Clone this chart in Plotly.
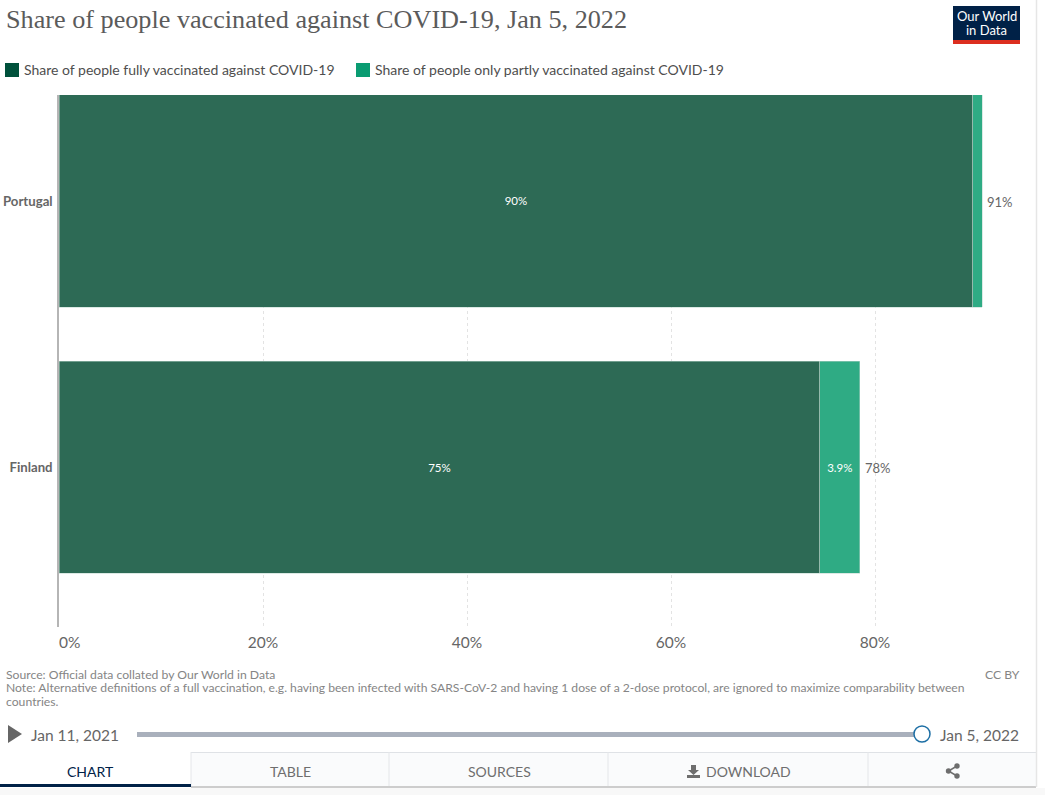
import plotly.graph_objects as go

countries = ["Finland", "Portugal"]
fully = [74.6, 89.6]
partly = [3.9, 0.9]
fully_labels = ["75%", "90%"]
partly_labels = ["3.9%", ""]
total_labels = ["78%", "91%"]
series_names = ["Share of people fully vaccinated against COVID-19",
                "Share of people only partly vaccinated against COVID-19"]
x_ticks = [0, 20, 40, 60, 80]
x_tick_labels = ["", "20%", "40%", "60%", "80%"]

W, H = 1045, 795
L, R, T, B = 59, 9, 95, 168
PW, PH = W - L - R, H - T - B
def px(x): return (x - L) / PW
def py(y): return 1 - (y - T) / PH

DARK, LIGHT = "#00513b", "#0a9c72"
DARK_BAR, LIGHT_BAR = "#2d6a55", "#2fab84"
GREY = "#6e6e6e"

fig = go.Figure()
fig.add_bar(y=countries, x=fully, orientation="h", name=series_names[0],
            marker=dict(color=DARK_BAR, line=dict(color="#b8d4ca", width=0.5)),
            text=fully_labels, textposition="inside", insidetextanchor="middle",
            textangle=0, textfont=dict(color="white", size=11.5, family="Lato"), hoverinfo="skip")
fig.add_bar(y=countries, x=partly, orientation="h", name=series_names[1],
            marker=dict(color=LIGHT_BAR, line=dict(color="#b8d4ca", width=0.5)),
            text=partly_labels, textposition="inside", insidetextanchor="middle",
            textangle=0, textfont=dict(color="white", size=11.5, family="Lato"), hoverinfo="skip")

ann, shp = [], []
def text(x, y, s, size=11, color=GREY, anchor="left", family="Lato"):
    ann.append(dict(xref="paper", yref="paper", x=px(x), y=py(y), text=s, showarrow=False,
                    xanchor=anchor, yanchor="middle", align=anchor,
                    font=dict(size=size, color=color, family=family), xshift=0, yshift=0,
                    borderpad=0, borderwidth=0))
def rect(x0, y0, x1, y1, fill, line=None, layer="above"):
    shp.append(dict(type="rect", xref="paper", yref="paper", x0=px(x0), x1=px(x1), y0=py(y0), y1=py(y1),
                    fillcolor=fill, line=dict(width=0 if line is None else 1, color=line or fill), layer=layer))
def hline(x0, x1, y, color, width=1):
    shp.append(dict(type="line", xref="paper", yref="paper", x0=px(x0), x1=px(x1), y0=py(y), y1=py(y),
                    line=dict(color=color, width=width)))
def vline(x, y0, y1, color, width=1):
    shp.append(dict(type="line", xref="paper", yref="paper", x0=px(x), x1=px(x), y0=py(y0), y1=py(y1),
                    line=dict(color=color, width=width)))
def path(points, fill):
    d = "M" + " L".join(f"{px(a):.5f},{py(b):.5f}" for a, b in points) + " Z"
    shp.append(dict(type="path", xref="paper", yref="paper", path=d, fillcolor=fill, line=dict(width=0)))

# value totals beside the bars
for c, f, p, lab in zip(countries, fully, partly, total_labels):
    ann.append(dict(x=f + p, y=c, xref="x", yref="y", text=lab, showarrow=False, xanchor="left",
                    xshift=3, yshift=-1, font=dict(size=13, color="#666", family="Lato")))

# title and logo
text(6, 19, "Share of people vaccinated against COVID-19, Jan 5, 2022", 26.2, "#5b5b5b", family="Liberation Serif")
rect(953, 6, 1020, 44, "#002147")
rect(953, 40, 1020, 44, "#dc2e1f")
text(986.5, 16, "Our World", 13, "white", "center")
text(986.5, 30, "in Data", 13, "white", "center")

# legend
rect(5, 63, 19, 77, DARK)
text(24, 70, series_names[0], 14, "#4e4e4e")
rect(356, 63, 370, 77, LIGHT)
text(375, 70, series_names[1], 14, "#4e4e4e")

# x=0 tick label
text(69.5, 642, "0%", 15.5, "#666", "center")

# footer
text(6, 674, "Source: Official data collated by Our World in Data", 12.2, "#858585")
text(1020, 674, "CC BY", 12.2, "#858585", "right")
text(6, 687.5, "Note: Alternative definitions of a full vaccination, e.g. having been infected with SARS-CoV-2 and having 1 dose of a 2-dose protocol, are ignored to maximize comparability between", 12.15, "#858585")
text(6, 701, "countries.", 12.2, "#858585")

# timeline
path([(8, 725), (22, 734), (8, 743)], "#666666")
text(31, 735, "Jan 11, 2021", 15.5, "#666")
text(1019, 735, "Jan 5, 2022", 15.5, "#666", "right")
rect(137, 732, 922, 737, "#a9b0bc")
shp.append(dict(type="circle", xref="paper", yref="paper", x0=px(914), x1=px(930), y0=py(726), y1=py(742),
                fillcolor="white", line=dict(color="#1d6fa5", width=1.5)))

# tabs
rect(191, 752, 1036, 786, "#fafbfc")
hline(191, 1036, 752.5, "#dfe2e6")
for x in [191, 389, 608, 868]:
    vline(x, 752, 786, "#e4e6e9")
rect(0, 784, 191, 787, "#002147")
hline(191, 1036, 787, "#bdbdbd", 1.5)
rect(0, 788, 1045, 795, "#f8f8f8")
vline(1036.5, 0, 787, "#e6e6e6", 1.5)
text(90.5, 771, "CHART", 14, "#002147", "center")
text(290.5, 771, "TABLE", 14, "#6e6e6e", "center")
text(499, 771, "SOURCES", 14, "#6e6e6e", "center")
text(706, 771, "DOWNLOAD", 14, "#6e6e6e", "left")
path([(691, 765), (696, 765), (696, 770), (699, 770), (693.5, 775), (688, 770), (691, 770)], "#6e6e6e")
rect(687, 775, 700, 778, "#6e6e6e")
for cx, cy in [(957, 766), (948.5, 771), (957, 776)]:
    shp.append(dict(type="circle", xref="paper", yref="paper", x0=px(cx - 2.7), x1=px(cx + 2.7),
                    y0=py(cy - 2.7), y1=py(cy + 2.7), fillcolor="#6e6e6e", line=dict(width=0)))
shp.append(dict(type="path", xref="paper", yref="paper",
                path=f"M{px(957)},{py(766)} L{px(948.5)},{py(771)} L{px(957)},{py(776)}",
                line=dict(color="#6e6e6e", width=1.5)))

fig.update_layout(
    width=W, height=H, autosize=False, barmode="stack", bargap=0.203, showlegend=False,
    margin=dict(l=L, r=R, t=T, b=B, pad=0, autoexpand=False), paper_bgcolor="white", plot_bgcolor="white",
    annotations=ann, shapes=shp, font=dict(family="Lato"),
    xaxis=dict(range=[0, PW / 10.2], tickmode="array", tickvals=x_ticks, ticktext=x_tick_labels,
               automargin=False, showgrid=True, gridcolor="#e3e3e3", griddash="3px,3px", gridwidth=1,
               zeroline=False, showline=False, ticks="outside", ticklen=1, tickcolor="rgba(0,0,0,0)",
               tickfont=dict(size=15.5, color="#666", family="Lato")),
    yaxis=dict(type="category", categoryorder="array", categoryarray=countries, automargin=False,
               range=[-0.60, 1.398], showgrid=False, zeroline=False, showline=True,
               linecolor="#b5b5b5", linewidth=1.5, ticks="outside", ticklen=2, tickcolor="rgba(0,0,0,0)",
               tickvals=countries, ticktext=[f"<b>{c}</b>" for c in countries],
               tickfont=dict(size=13.2, color="#666", family="Lato")),
)
fig.write_html("out.html", config={"displayModeBar": False},
               post_script="document.body.style.margin='0';document.body.style.overflow='hidden';")
